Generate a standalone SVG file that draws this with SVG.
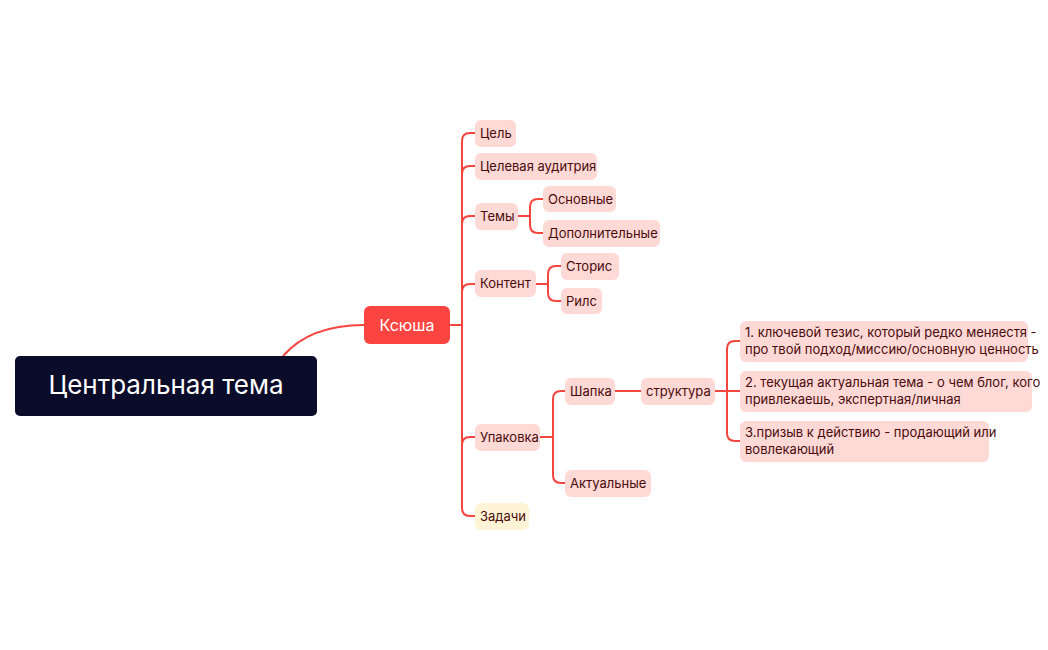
<svg xmlns="http://www.w3.org/2000/svg" width="1048" height="650" viewBox="0 0 1048 650">
<style>
.n rect{fill:#ffd9d6}
.n text{font-family:Inter,"Liberation Sans",sans-serif;font-size:13px;fill:#4a0b0b}
.c path{fill:none;stroke:#f5453f;stroke-width:2}
</style>
<rect width="1048" height="650" fill="#fff"/>
<g class="c">
<path d="M283,356 Q310,325 364,325"/>
<path d="M450,325 H462"/>
<path d="M475,133 H470 Q462,133 462,141 V508 Q462,516 470,516 H475"/>
<path d="M462,174 Q462,166 470,166 H475"/>
<path d="M462,224 Q462,216 470,216 H475"/>
<path d="M462,292 Q462,284 470,284 H475"/>
<path d="M462,445 Q462,437 470,437 H475"/>
<path d="M518,216 H530"/>
<path d="M543,199 H538 Q530,199 530,207 V225 Q530,233 538,233 H543"/>
<path d="M536,284 H548"/>
<path d="M561,266 H556 Q548,266 548,274 V293 Q548,301 556,301 H561"/>
<path d="M540,437 H553"/>
<path d="M565,391 H561 Q553,391 553,399 V475 Q553,483 561,483 H565"/>
<path d="M615,391 H641"/>
<path d="M715,391 H740"/>
<path d="M740,341 H735 Q727,341 727,349 V433 Q727,441 735,441 H740"/>
</g>
<g id="central"><rect x="15" y="356" width="302" height="60" rx="5" fill="#0b0b2a"/><text x="166" y="394" text-anchor="middle" font-family="Inter,'Liberation Sans',sans-serif" font-size="26" fill="#fff">Центральная тема</text></g>
<g id="ksyusha"><rect x="364" y="306" width="86" height="38" rx="6" fill="#fc4540"/><text x="407" y="331" text-anchor="middle" font-family="Inter,'Liberation Sans',sans-serif" font-size="16" fill="#fff">Ксюша</text></g>
<g id="n1" class="n"><rect x="475" y="120" width="41" height="27" rx="6"/><text x="480" y="138">Цель</text></g>
<g id="n2" class="n"><rect x="475" y="153" width="122" height="27" rx="6"/><text x="480" y="171">Целевая аудитрия</text></g>
<g id="n3" class="n"><rect x="475" y="203" width="43" height="27" rx="6"/><text x="480" y="221">Темы</text></g>
<g id="n4" class="n"><rect x="543" y="186" width="73" height="26" rx="6"/><text x="548" y="204">Основные</text></g>
<g id="n5" class="n"><rect x="543" y="220" width="117" height="27" rx="6"/><text x="548" y="238">Дополнительные</text></g>
<g id="n6" class="n"><rect x="475" y="270" width="61" height="27" rx="6"/><text x="480" y="288">Контент</text></g>
<g id="n7" class="n"><rect x="561" y="253" width="58" height="27" rx="6"/><text x="566" y="271">Сторис</text></g>
<g id="n8" class="n"><rect x="561" y="288" width="41" height="26" rx="6"/><text x="566" y="306">Рилс</text></g>
<g id="n9" class="n"><rect x="475" y="424" width="65" height="27" rx="6"/><text x="480" y="442">Упаковка</text></g>
<g id="n10" class="n"><rect x="565" y="378" width="50" height="27" rx="6"/><text x="570" y="396">Шапка</text></g>
<g id="n11" class="n"><rect x="641" y="378" width="74" height="27" rx="6"/><text x="646" y="396">структура</text></g>
<g id="n12" class="n"><rect x="740" y="321" width="288" height="41" rx="6"/><text x="745" y="337">1. ключевой тезис, который редко меняестя -</text><text x="745" y="354">про твой подход/миссию/основную ценность</text></g>
<g id="n13" class="n"><rect x="740" y="371" width="292" height="41" rx="6"/><text x="745" y="387">2. текущая актуальная тема - о чем блог, кого</text><text x="745" y="404">привлекаешь, экспертная/личная</text></g>
<g id="n14" class="n"><rect x="740" y="421" width="249" height="41" rx="6"/><text x="745" y="437">3.призыв к действию - продающий или</text><text x="745" y="454">вовлекающий</text></g>
<g id="n15" class="n"><rect x="565" y="470" width="86" height="27" rx="6"/><text x="570" y="488">Актуальные</text></g>
<g id="n16" class="n"><rect x="475" y="503" width="54" height="27" rx="6" style="fill:#fff5d6"/><text x="480" y="521">Задачи</text></g>
</svg>
